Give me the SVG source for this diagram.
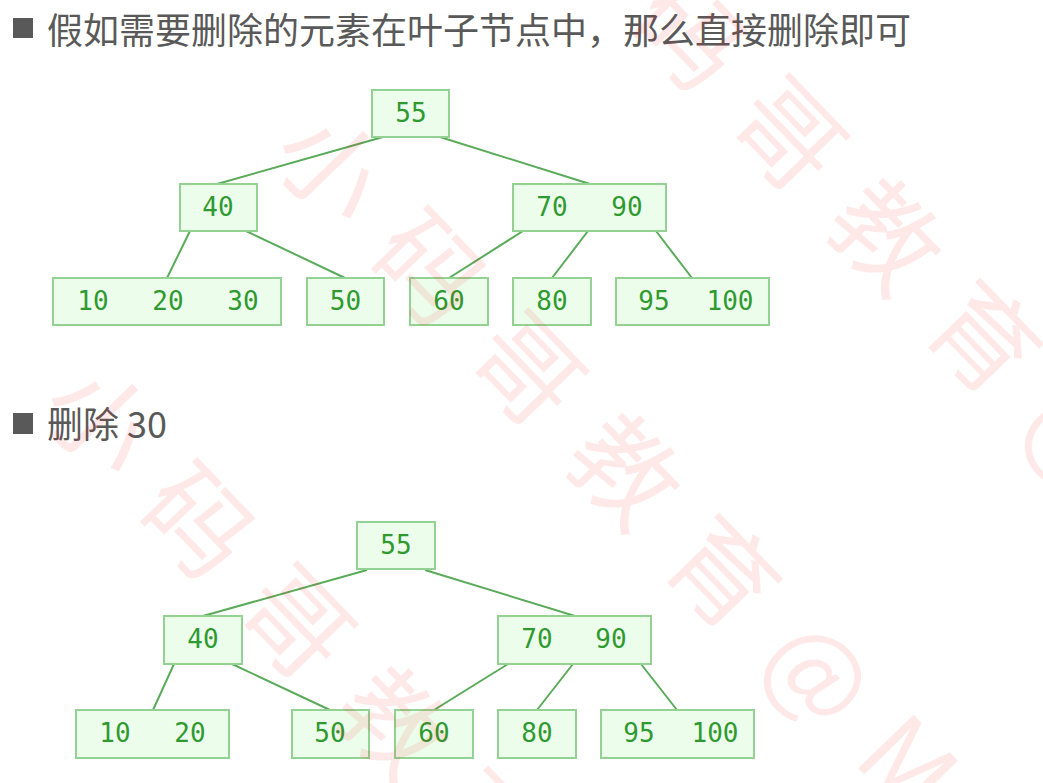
<svg xmlns="http://www.w3.org/2000/svg" width="1043" height="783" viewBox="0 0 1043 783">
<style>
.box{fill:#edfdec;stroke:#93d293;stroke-width:2}
.num{font-family:"DejaVu Sans Mono","Liberation Mono",monospace;font-size:26px;fill:#2f9a2f;text-anchor:middle}
.edge{stroke:#5aab5a;stroke-width:2;fill:none}
.head{font-family:"Noto Sans CJK SC","Noto Sans",sans-serif;font-size:36px;fill:#595959}
.wm{font-family:"Noto Sans CJK SC",sans-serif;font-size:105px;letter-spacing:36px;fill:#ff0000;fill-opacity:0.09}
</style>
<rect width="1043" height="783" fill="#ffffff"/>
<g id="heading1">
<rect x="13" y="18" width="20" height="20" fill="#595959"/>
<text class="head" x="47" y="44">假如需要删除的元素在叶子节点中，那么直接删除即可</text>
</g>
<g id="heading2">
<rect x="13" y="413" width="20" height="21" fill="#595959"/>
<text class="head" x="47" y="438">删除 30</text>
</g>
<g id="connectors">
<line class="edge" x1="383" y1="137" x2="217" y2="184"/>
<line class="edge" x1="440" y1="137" x2="590" y2="184"/>
<line class="edge" x1="190" y1="231" x2="167" y2="278"/>
<line class="edge" x1="246" y1="231" x2="345" y2="278"/>
<line class="edge" x1="523" y1="231" x2="449" y2="278"/>
<line class="edge" x1="588" y1="231" x2="552" y2="278"/>
<line class="edge" x1="656" y1="231" x2="692" y2="278"/>
<line class="edge" x1="367" y1="570" x2="203" y2="616"/>
<line class="edge" x1="425" y1="570" x2="575" y2="616"/>
<line class="edge" x1="174" y1="664" x2="153" y2="710"/>
<line class="edge" x1="232" y1="664" x2="330" y2="710"/>
<line class="edge" x1="508" y1="664" x2="434" y2="710"/>
<line class="edge" x1="573" y1="664" x2="537" y2="710"/>
<line class="edge" x1="641" y1="664" x2="677" y2="710"/>
</g>
<g id="t1-55"><rect class="box" x="372" y="90" width="77" height="47"/><text class="num" x="411" y="122">55</text></g>
<g id="t1-40"><rect class="box" x="180" y="184" width="77" height="47"/><text class="num" x="218" y="216">40</text></g>
<g id="t1-7090"><rect class="box" x="513" y="184" width="153" height="47"/><text class="num" x="552" y="216">70</text><text class="num" x="627" y="216">90</text></g>
<g id="t1-102030"><rect class="box" x="53" y="278" width="228" height="47"/><text class="num" x="93" y="310">10</text><text class="num" x="168" y="310">20</text><text class="num" x="243" y="310">30</text></g>
<g id="t1-50"><rect class="box" x="307" y="278" width="77" height="47"/><text class="num" x="345.5" y="310">50</text></g>
<g id="t1-60"><rect class="box" x="410" y="278" width="78" height="47"/><text class="num" x="449" y="310">60</text></g>
<g id="t1-80"><rect class="box" x="513" y="278" width="78" height="47"/><text class="num" x="552" y="310">80</text></g>
<g id="t1-95100"><rect class="box" x="616" y="278" width="153" height="47"/><text class="num" x="654" y="310">95</text><text class="num" x="730" y="310">100</text></g>
<g id="t2-55"><rect class="box" x="357" y="522" width="78" height="47"/><text class="num" x="396" y="554">55</text></g>
<g id="t2-40"><rect class="box" x="164" y="616" width="78" height="48"/><text class="num" x="203" y="648">40</text></g>
<g id="t2-7090"><rect class="box" x="498" y="616" width="153" height="48"/><text class="num" x="537" y="648">70</text><text class="num" x="611" y="648">90</text></g>
<g id="t2-1020"><rect class="box" x="76" y="710" width="153" height="48"/><text class="num" x="115" y="742">10</text><text class="num" x="190" y="742">20</text></g>
<g id="t2-50"><rect class="box" x="292" y="710" width="77" height="48"/><text class="num" x="330" y="742">50</text></g>
<g id="t2-60"><rect class="box" x="395" y="710" width="78" height="48"/><text class="num" x="434" y="742">60</text></g>
<g id="t2-80"><rect class="box" x="498" y="710" width="78" height="48"/><text class="num" x="537" y="742">80</text></g>
<g id="t2-95100"><rect class="box" x="601" y="710" width="153" height="48"/><text class="num" x="639" y="742">95</text><text class="num" x="715" y="742">100</text></g>
<g id="watermark">
<text class="wm" transform="translate(528,-79) rotate(46)">小码哥教育@MJ</text>
<text class="wm" transform="translate(267,156) rotate(46)">小码哥教育@MJ</text>
<text class="wm" transform="translate(36,409) rotate(46)">小码哥教育@MJ</text>
</g>
</svg>
